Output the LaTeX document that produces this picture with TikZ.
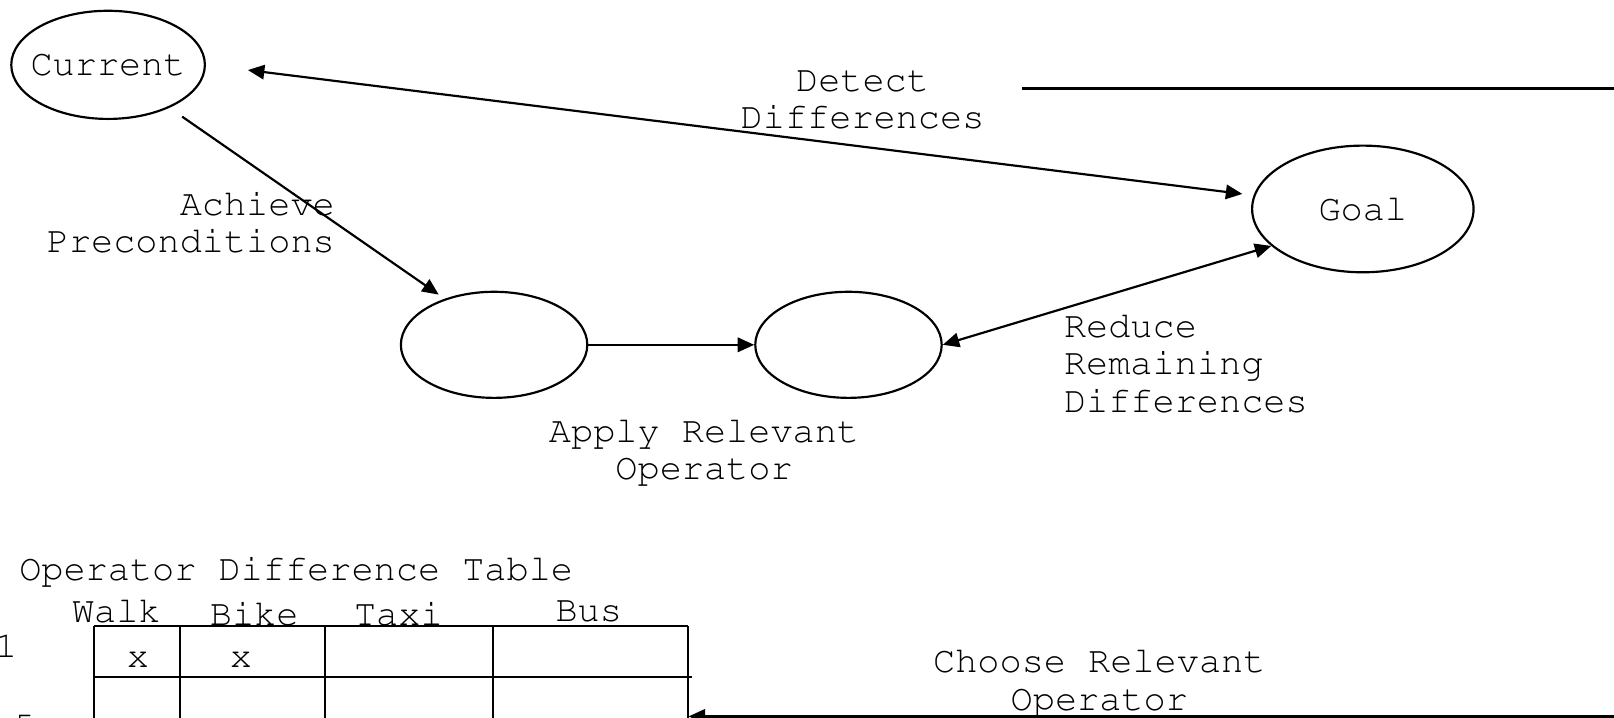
\documentclass[tikz,border=0pt]{standalone}
\usepackage[T1]{fontenc}
\usetikzlibrary{shapes.geometric,arrows.meta,positioning}
\newcommand{\lbl}{\fontencoding{T1}\fontfamily{pcr}\fontseries{m}\fontshape{n}\fontsize{10.2pt}{10.4pt}\selectfont}
\tikzstyle{state} = [ellipse, draw, line width=0.6pt, inner sep=0pt]
\tikzstyle{line} = [draw, line width=0.6pt, -{Triangle[length=0.16cm,width=0.14cm]}]
\tikzstyle{twoway} = [draw, line width=0.6pt, {Triangle[length=0.16cm,width=0.14cm]}-{Triangle[length=0.16cm,width=0.14cm]}]
\tikzstyle{tabline} = [draw, line width=0.6pt]
\begin{document}
\begin{tikzpicture}[x=0.01cm,y=0.01cm,every node/.style={font=\lbl,inner sep=0pt}]
    \useasboundingbox (0,0) rectangle (1568,-697);
    % Place nodes
    \node [state,minimum width=1.88cm,minimum height=1.05cm,label=center:Current] (current) at (105,-63) {};
    \node [state,minimum width=2.15cm,minimum height=1.23cm,label=center:Goal] (goal) at (1324,-203) {};
    \node [state,minimum width=1.81cm,minimum height=1.03cm] (pre) at (480,-335) {};
    \node [state,minimum width=1.81cm,minimum height=1.03cm,right=1.61cm of pre] (apply) {};

    % Labels
    \node [align=center] (detect) at (838,-97) {Detect\\Differences};
    \node [align=right,anchor=east] (achieve) at (326,-216) {Achieve\\Preconditions};
    \node [align=center] (applylbl) at (684,-439) {Apply Relevant\\Operator};
    \node [align=left,anchor=west] (reduce) at (1033,-353) {Reduce\\Remaining\\Differences};
    \node [align=center] (choose) at (1068,-663) {Choose Relevant\\Operator};

    % Operator difference table
    \node [anchor=west] (title) at (18,-555) {Operator Difference Table};
    \foreach \x/\t/\y in {113/Walk/594,247/Bike/596,387/Taxi/596,572/Bus/594}
        \node (h\t) at (\x,-\y) {\t};
    \node (row1) at (6,-627) {1};
    \node (row5) at (24,-706) {5};
    \foreach \x in {91,175,316,479,668}
        \path [tabline] (\x,-608) -- (\x,-720);
    \path [tabline] (91,-608) -- (668,-608);
    \path [tabline] (91,-658) -- (672,-658);
    \node (walk1) at (134,-641) {x};
    \node (bike1) at (234,-641) {x};

    % Draw edges
    \path [twoway,shorten <=0.41cm,shorten >=0.11cm] (current.east) -- (goal);
    \path [line,shorten <=0.15cm,shorten >=0.07cm] (current.-35) -- (pre.137);
    \path [line] (pre) -- (apply);
    \path [twoway] (apply.east) -- (goal.202);

    \coordinate (lineL) at (993,-86);
    \coordinate (lineR) at (1568,-86);
    \path [tabline] (lineL) -- (lineR);

    \coordinate (choosein) at (1568,-696);
    \coordinate (tableout) at (669,-696);
    \path [line] (choosein) -- (tableout);
\end{tikzpicture}
\end{document}
